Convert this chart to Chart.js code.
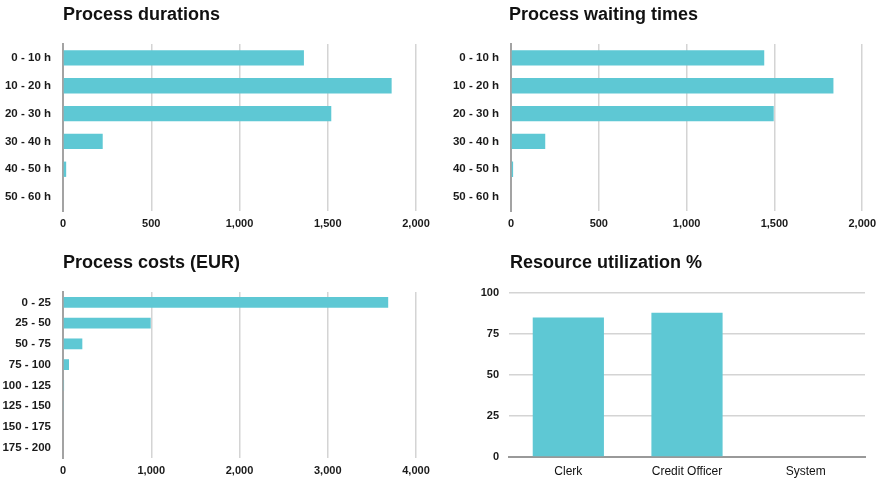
<!DOCTYPE html>
<html>
<head>
<meta charset="utf-8">
<script src="https://cdn.jsdelivr.net/npm/chart.js@4/dist/chart.umd.min.js"></script>
<style>
  html, body { margin: 0; padding: 0; background: #fff; }
  body { width: 882px; height: 482px; position: relative; overflow: hidden; }
  .panel { position: absolute; width: 441px; height: 241px; }
  .panel canvas { position: absolute; left: 0; top: 0; }
  .title { position: absolute; font-family: 'Liberation Sans', Arial, sans-serif; font-weight: bold;
           font-size: 18px; line-height: 18px; color: #111; white-space: nowrap; }
</style>
</head>
<body>
<div class="panel" style="left:0;top:0"><canvas id="c1" width="441" height="241"></canvas></div>
<div class="panel" style="left:441px;top:0"><canvas id="c2" width="441" height="241"></canvas></div>
<div class="panel" style="left:0;top:241px"><canvas id="c3" width="441" height="241"></canvas></div>
<div class="panel" style="left:441px;top:241px"><canvas id="c4" width="441" height="241"></canvas></div>
<div class="title" style="left:63px;top:5px">Process durations</div>
<div class="title" style="left:509px;top:5px">Process waiting times</div>
<div class="title" style="left:63px;top:253px">Process costs (EUR)</div>
<div class="title" style="left:510px;top:253px">Resource utilization %</div>
<script>
// ---- data ----
const durationCategories = ['0 - 10 h', '10 - 20 h', '20 - 30 h', '30 - 40 h', '40 - 50 h', '50 - 60 h'];
const durationValues = [1365, 1862, 1520, 225, 18, 0];

const waitingCategories = ['0 - 10 h', '10 - 20 h', '20 - 30 h', '30 - 40 h', '40 - 50 h', '50 - 60 h'];
const waitingValues = [1442, 1836, 1496, 195, 12, 0];

const costCategories = ['0 - 25', '25 - 50', '50 - 75', '75 - 100', '100 - 125', '125 - 150', '150 - 175', '175 - 200'];
const costValues = [3685, 994, 219, 68, 12, 10, 0, 0];

const resourceCategories = ['Clerk', 'Credit Officer', 'System'];
const resourceValues = [85, 88, 0];

const hoursTicks = { max: 2000, step: 500 };
const costTicks = { max: 4000, step: 1000 };
const utilTicks = { max: 100, step: 25 };

// ---- styles ----
const BAR = '#5ec8d4';
const GRID = '#d4d4d4';
const AXIS = '#a3a3a3';
const TXT = '#1a1a1a';
const FAM = "'Liberation Sans', Arial, sans-serif";
const FONT = { family: FAM, size: 11, weight: 'bold' };
const CATFONT = { family: FAM, size: 11.5, weight: 'bold' };
const fmt = v => Number(v).toLocaleString('en-US');

function hbar(id, cats, vals, tick, cfg) {
  return new Chart(document.getElementById(id), {
    type: 'bar',
    data: { labels: cats, datasets: [{ data: vals, backgroundColor: BAR, borderWidth: 0,
      categoryPercentage: 1, barPercentage: cfg.barPct }] },
    options: {
      indexAxis: 'y', responsive: false, animation: false,
      layout: { padding: { top: cfg.top, left: 0, right: cfg.right, bottom: 0 } },
      plugins: { legend: { display: false }, tooltip: { enabled: false } },
      scales: {
        x: {
          min: 0, max: tick.max,
          ticks: { stepSize: tick.step, callback: fmt, color: TXT, font: FONT, padding: 6, maxRotation: 0 },
          grid: { color: GRID, lineWidth: 1.5, drawTicks: false },
          border: { display: false },
          afterFit: s => { s.height = cfg.xh; }
        },
        y: {
          ticks: { color: TXT, font: CATFONT, padding: 12 },
          grid: { display: false, drawTicks: false },
          border: { display: true, color: AXIS, width: 2 },
          afterFit: s => { s.width = cfg.yw; }
        }
      }
    }
  });
}

hbar('c1', durationCategories, durationValues, hoursTicks, { top: 44, right: 25, xh: 30, yw: 63, barPct: 0.55 });
hbar('c2', waitingCategories, waitingValues, hoursTicks, { top: 44, right: 18, xh: 30, yw: 70, barPct: 0.55 });
hbar('c3', costCategories, costValues, costTicks, { top: 51, right: 25, xh: 24, yw: 63, barPct: 0.52 });

new Chart(document.getElementById('c4'), {
  type: 'bar',
  data: { labels: resourceCategories, datasets: [{ data: resourceValues, backgroundColor: BAR, borderWidth: 0,
    categoryPercentage: 1, barPercentage: 0.6 }] },
  options: {
    responsive: false, animation: false,
    layout: { padding: { top: 52, left: 0, right: 17, bottom: 0 } },
    plugins: { legend: { display: false }, tooltip: { enabled: false } },
    scales: {
      x: {
        ticks: { color: '#111', font: { family: FAM, size: 12, weight: 'normal' }, padding: 7, maxRotation: 0 },
        grid: { display: false, drawTicks: false },
        border: { display: true, color: '#999', width: 2 },
        afterFit: s => { s.height = 25; }
      },
      y: {
        min: 0, max: utilTicks.max,
        ticks: { stepSize: utilTicks.step, color: TXT, font: FONT, padding: 10 },
        grid: { color: GRID, lineWidth: 1.5, drawTicks: false },
        border: { display: false },
        afterFit: s => { s.width = 68; }
      }
    }
  }
});
</script>
</body>
</html>
